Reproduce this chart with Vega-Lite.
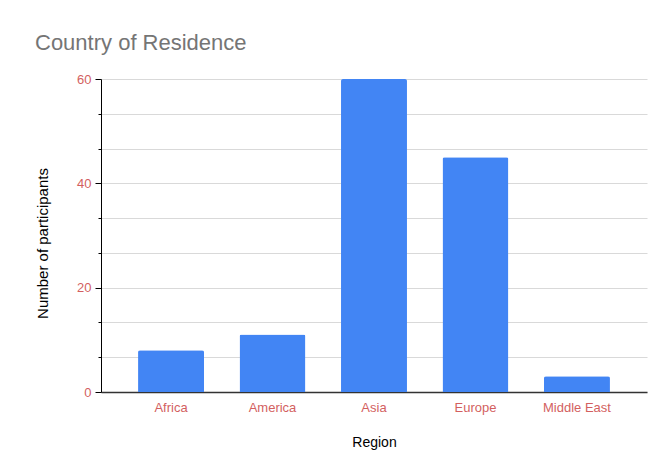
{
  "$schema": "https://vega.github.io/schema/vega-lite/v6.json",
  "autosize": {"type": "none"},
  "width": 546,
  "height": 313,
  "padding": {"left": 101, "top": 79, "right": 23, "bottom": 79},
  "background": "#ffffff",
  "title": {
    "text": "Country of Residence",
    "anchor": "start",
    "frame": "group",
    "dx": -66,
    "fontSize": 22,
    "font": "Liberation Sans",
    "fontWeight": "normal",
    "color": "#757575",
    "offset": 18
  },
  "data": {
    "values": [
      {"Region": "Africa", "Count": 8},
      {"Region": "America", "Count": 11},
      {"Region": "Asia", "Count": 60},
      {"Region": "Europe", "Count": 45},
      {"Region": "Middle East", "Count": 3}
    ]
  },
  "mark": {"type": "bar", "color": "#4285f4", "cornerRadiusTopLeft": 2, "cornerRadiusTopRight": 2},
  "encoding": {
    "x": {
      "field": "Region",
      "type": "nominal",
      "sort": null,
      "scale": {"paddingInner": 0.35, "paddingOuter": 0.365},
      "axis": {
        "title": "Region",
        "labelAngle": 0,
        "labelColor": "#d35f5f",
        "labelFont": "Liberation Sans",
        "labelFontSize": 13,
        "labelPadding": 9,
        "ticks": false,
        "domainColor": "#333333",
        "domainWidth": 1.5,
        "titleFont": "Liberation Sans",
        "titleFontSize": 14,
        "titleFontWeight": "normal",
        "titleColor": "#000000",
        "titlePadding": 21
      }
    },
    "y": {
      "field": "Count",
      "type": "quantitative",
      "scale": {"domain": [0, 60], "nice": false},
      "axis": {
        "title": "Number of participants",
        "values": [0, 6.6667, 13.3333, 20, 26.6667, 33.3333, 40, 46.6667, 53.3333, 60],
        "labelExpr": "datum.value % 20 == 0 ? datum.label : ''",
        "labelColor": "#d35f5f",
        "labelFont": "Liberation Sans",
        "labelFontSize": 13,
        "labelPadding": 4,
        "domainColor": "#000000",
        "tickColor": "#000000",
        "tickSize": {"condition": {"test": "datum.value % 20 == 0", "value": 6}, "value": 3},
        "gridColor": "#d9d9d9",
        "titleFont": "Liberation Sans",
        "titleFontSize": 15,
        "titleFontWeight": "normal",
        "titleColor": "#000000",
        "titleX": -59,
        "titleY": 164,
        "titleBaseline": "middle",
        "titleAlign": "center"
      }
    }
  },
  "config": {
    "view": {"stroke": null}
  }
}
